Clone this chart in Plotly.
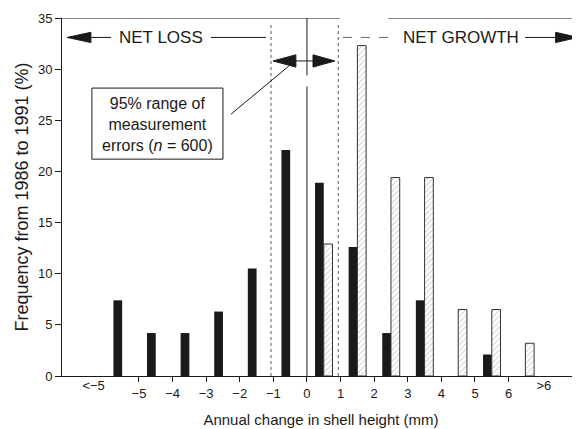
import plotly.graph_objects as go

# ---- data ----
loss_bins = [-5.5, -4.5, -3.5, -2.5, -1.5, -0.5, 0.5, 1.5, 2.5, 3.5, 5.5]
black_freq = [7.4, 4.2, 4.2, 6.3, 10.5, 22.1, 18.9, 12.6, 4.2, 7.4, 2.1]
hatch_bins = [0.5, 1.5, 2.5, 3.5, 4.5, 5.5, 6.5]
hatch_freq = [12.9, 32.3, 19.4, 19.4, 6.5, 6.5, 3.2]

tick_vals = [-5, -4, -3, -2, -1, 0, 1, 2, 3, 4, 5, 6]
tick_text = ["\u22125", "\u22124", "\u22123", "\u22122", "\u22121", "0", "1", "2", "3", "4", "5", "6"]
end_vals = [-6.35, 7.05]
end_text = ["<\u22125", ">6"]
y_ticks = [0, 5, 10, 15, 20, 25, 30, 35]

err_lo, err_hi = -1.07, 0.93

FONT = "Liberation Sans, Arial, Helvetica, sans-serif"
INK = "#1a1a1a"
XR = [-7.29, 8.125]

fig = go.Figure()
fig.add_trace(go.Bar(x=loss_bins, y=black_freq, marker=dict(color=INK, line=dict(width=0)),
                     showlegend=False, hoverinfo="skip"))
fig.add_trace(go.Bar(x=hatch_bins, y=hatch_freq,
                     marker=dict(color="white", line=dict(color="#333", width=1),
                                 pattern=dict(shape="/", fgcolor="#666", bgcolor="white",
                                              size=4, solidity=0.2)),
                     showlegend=False, hoverinfo="skip"))
# invisible trace for secondary axis labels
fig.add_trace(go.Scatter(x=end_vals, y=[0, 0], xaxis="x2", mode="markers",
                         marker=dict(opacity=0), showlegend=False, hoverinfo="skip"))

shapes = []
def line(x0, y0, x1, y1, dash="solid", color=INK, width=1):
    shapes.append(dict(type="line", xref="x", yref="y", x0=x0, y0=y0, x1=x1, y1=y1,
                       line=dict(color=color, width=width, dash=dash)))

def head(tip_x, base_x, y, hh):
    shapes.append(dict(type="path", xref="x", yref="y",
                       path=f"M {tip_x},{y} L {base_x},{y+hh} L {base_x},{y-hh} Z",
                       fillcolor=INK, line=dict(color=INK, width=1)))

# top frame (with break)
line(XR[0], 35, 0.98, 35)
line(2.41, 35, XR[1], 35)
# zero line (solid) with small break
line(0, 0, 0, 28.3)
line(0, 29.4, 0, 35)
# measurement-error limits (dotted)
line(err_lo, 0, err_lo, 34.6, dash="dot", color="#555")
line(err_hi, 0, err_hi, 34.6, dash="dot", color="#555")
# double arrow
ya = 30.8
line(-0.33, ya, 0.18, ya)
head(-1.01, -0.33, ya, 0.6)
head(0.83, 0.18, ya, 0.6)
# leader line
line(-0.54, 30.3, -2.26, 25.6)
# box
shapes.append(dict(type="rect", xref="x", yref="y", x0=-6.40, x1=-2.50, y0=21.2, y1=28.15,
                   line=dict(color=INK, width=1), fillcolor="rgba(0,0,0,0)"))
# NET LOSS arrow
yn = 33.1
head(-7.14, -6.43, yn, 0.5)
line(-6.43, yn, -5.83, yn)
line(-2.86, yn, -1.22, yn)
# NET GROWTH arrow
line(1.07, yn, 2.56, yn, dash="dash", color="#666")
line(6.49, yn, 7.40, yn)
head(8.07, 7.40, yn, 0.5)

annotations = [
    dict(x=-4.35, y=yn, xref="x", yref="y", text="NET LOSS", showarrow=False,
         font=dict(family=FONT, size=17, color=INK)),
    dict(x=4.58, y=yn, xref="x", yref="y", text="NET GROWTH", showarrow=False,
         font=dict(family=FONT, size=17, color=INK)),
    dict(x=-4.45, y=24.63, xref="x", yref="y",
         text="95% range of<br>measurement<br>errors (<i>n</i> = 600)", showarrow=False,
         align="center", font=dict(family=FONT, size=16, color=INK)),
]

# page body has an 8px default margin; margins compensate so the plot lands where the reference has it
fig.update_layout(
    width=580, height=429,
    margin=dict(l=54, r=8, t=10, b=61),
    plot_bgcolor="white", paper_bgcolor="white",
    barmode="group", bargap=0.48,
    shapes=shapes, annotations=annotations,
    font=dict(family=FONT, color=INK),
    xaxis=dict(range=XR, tickvals=tick_vals, ticktext=tick_text, ticks="outside",
               ticklen=5, tickcolor=INK, showline=True, linecolor=INK, linewidth=1,
               showgrid=False, zeroline=False, tickfont=dict(size=13, family=FONT),
               automargin=False,
               title=dict(text="Annual change in shell height (mm)",
                          font=dict(size=15, family=FONT), standoff=14)),
    xaxis2=dict(range=XR, overlaying="x", anchor="y", side="bottom", tickvals=end_vals,
                ticktext=end_text, ticks="", showline=False, showgrid=False,
                zeroline=False, tickfont=dict(size=13, family=FONT), automargin=False),
    yaxis=dict(range=[0, 35], tickvals=y_ticks, ticks="outside", ticklen=6,
               tickcolor=INK, showline=True, linecolor=INK, linewidth=1,
               showgrid=False, zeroline=False, tickfont=dict(size=13, family=FONT),
               automargin=False,
               title=dict(text="Frequency from 1986 to 1991 (%)",
                          font=dict(size=18, family=FONT), standoff=4)),
)

fig.write_html("out.html")
